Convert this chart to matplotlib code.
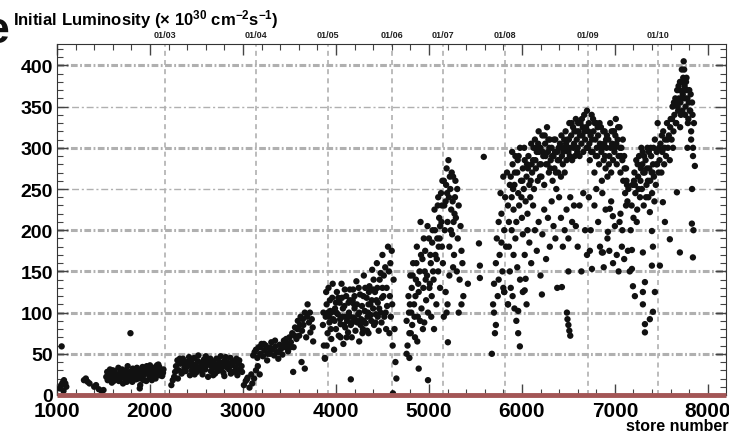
import matplotlib
matplotlib.use('Agg')
import matplotlib.pyplot as plt
from matplotlib.ticker import MultipleLocator
import matplotlib.transforms as mtransforms

# ---------------- data (store number, initial luminosity) ----------------
run2002 = [(1050, 59), (1030, 8), (1045, 12), (1060, 15), (1075, 18), (1090, 14), (1100, 10), (1070, 5),
           (1290, 18), (1310, 20), (1330, 16), (1350, 14), (1400, 10), (1420, 12), (1450, 7), (1480, 5),
           (1500, 6), (1530, 22), (1545, 18), (1560, 26), (1575, 20), (1590, 15), (1605, 24), (1620, 29),
           (1635, 19), (1650, 22), (1665, 17), (1680, 27), (1695, 21), (1710, 14), (1725, 25), (1740, 30),
           (1755, 23), (1770, 18), (1785, 28), (1800, 26), (1815, 32), (1830, 22), (1845, 27), (1860, 33),
           (1875, 25), (1890, 8), (1895, 12), (1905, 30), (1920, 34), (1935, 24), (1950, 29), (1965, 35),
           (1980, 27), (1995, 22), (2010, 31), (2025, 28), (2040, 33), (2055, 25), (2070, 30), (2085, 27),
           (2100, 34), (2115, 29), (2130, 23), (2145, 31), (1790, 75), (1600, 30), (1700, 31), (1750, 16),
           (1850, 19), (1900, 20), (1960, 17), (2000, 36), (2060, 20), (2120, 26), (1640, 25), (1760, 35),
           (1820, 21), (1880, 29), (1940, 32), (2090, 37), (2020, 18),
           (1540, 28), (1570, 31), (1610, 17), (1660, 33), (1690, 24), (1730, 20), (1780, 24), (1810, 16),
           (1840, 30), (1870, 20), (1910, 26), (1930, 18), (1970, 31), (2005, 26), (2035, 22), (2075, 36),
           (2105, 24), (2140, 27)]

run2003 = [(2230, 12), (2245, 18), (2260, 22), (2280, 35), (2295, 42), (2310, 30), (2325, 38), (2340, 26),
           (2355, 44), (2370, 33), (2385, 29), (2400, 40), (2415, 36), (2430, 24), (2445, 41), (2460, 32),
           (2475, 45), (2490, 37), (2505, 28), (2520, 48), (2535, 34), (2550, 39), (2565, 25), (2580, 43),
           (2595, 31), (2610, 36), (2625, 22), (2640, 38), (2655, 29), (2670, 41), (2685, 33), (2700, 26),
           (2715, 44), (2730, 35), (2745, 30), (2760, 47), (2775, 38), (2790, 27), (2805, 42), (2820, 34),
           (2835, 39), (2850, 31), (2865, 45), (2880, 36), (2895, 28), (2910, 40), (2925, 33), (2940, 24),
           (2955, 38), (2970, 30), (2985, 35), (2300, 20), (2350, 28), (2420, 46), (2480, 25), (2560, 35),
           (2600, 47), (2680, 24), (2750, 40), (2800, 23), (2870, 26), (2930, 44), (2450, 30), (2500, 33),
           (2650, 44), (3010, 12), (3030, 17), (3050, 21), (3070, 9), (3090, 25), (3100, 14), (3120, 20),
           (2270, 28), (2320, 44), (2365, 38), (2395, 34), (2440, 37), (2470, 28), (2515, 41), (2545, 30),
           (2590, 38), (2620, 42), (2660, 35), (2695, 38), (2725, 29), (2770, 33), (2815, 46), (2845, 36),
           (2890, 41), (2920, 29), (2960, 42), (2990, 28)]

run2004 = [(3110, 48), (3125, 52), (3140, 55), (3155, 45), (3170, 58), (3185, 50), (3200, 62), (3215, 47),
           (3230, 54), (3245, 60), (3260, 42), (3275, 57), (3290, 50), (3305, 64), (3320, 55), (3335, 48),
           (3350, 59), (3365, 52), (3380, 44), (3395, 61), (3410, 56), (3425, 49), (3440, 66), (3455, 58),
           (3470, 62), (3485, 53), (3500, 70), (3515, 64), (3530, 75), (3545, 58), (3560, 82), (3575, 68),
           (3590, 90), (3605, 72), (3620, 95), (3635, 78), (3650, 85), (3665, 100), (3680, 70), (3695, 110),
           (3710, 88), (3725, 76), (3740, 92), (3755, 65), (3140, 30), (3160, 35), (3180, 25), (3540, 28),
           (3630, 40), (3665, 32), (3043, 19),
           (3190, 58), (3225, 62), (3265, 50), (3300, 57), (3345, 66), (3390, 52), (3430, 60), (3465, 68),
           (3510, 58), (3555, 72), (3585, 80), (3615, 85), (3645, 92), (3690, 95), (3720, 100), (3750, 82)]

run2005 = [(3860, 85), (3870, 60), (3880, 45), (3890, 95), (3900, 110), (3910, 75), (3920, 130), (3930, 88),
           (3940, 102), (3950, 68), (3960, 118), (3970, 92), (3980, 55), (3990, 105), (4000, 80), (4010, 125),
           (4020, 98), (4030, 72), (4040, 112), (4050, 86), (4060, 135), (4070, 95), (4080, 62), (4090, 108),
           (4100, 82), (4110, 120), (4120, 90), (4130, 76), (4140, 100), (4150, 128), (4160, 85), (4170, 70),
           (4180, 115), (4190, 94), (4200, 105), (4210, 78), (4220, 138), (4230, 88), (4240, 98), (4250, 65),
           (4260, 122), (4270, 92), (4280, 108), (4290, 80), (4300, 145), (4310, 102), (4320, 87), (4330, 118),
           (4340, 95), (4350, 75), (4360, 132), (4370, 110), (4380, 90), (4390, 152), (4400, 105), (4410, 85),
           (4420, 125), (4430, 98), (4440, 160), (4450, 112), (4460, 78), (4470, 140), (4480, 100), (4490, 88),
           (4500, 170), (4510, 120), (4520, 95), (4530, 155), (4540, 80), (4550, 108), (3900, 60), (3950, 100),
           (4000, 112), (4050, 70), (4100, 95), (4150, 115), (4200, 120), (4250, 100), (4300, 90), (4350, 110),
           (4400, 128), (4450, 95), (4500, 130), (3935, 115), (4065, 118), (4175, 88), (4285, 75), (4375, 97),
           (4480, 148), (4160, 19), (3882, 44), (4560, 180), (4570, 150), (4580, 120), (4590, 95), (4600, 175),
           (4610, 60), (4620, 140), (4630, 80), (4640, 40), (4613, 2), (4650, 20), (4585, 160), (4605, 110),
           (4575, 75),
           (3865, 100), (3895, 125), (3925, 95), (3945, 80), (3965, 135), (3985, 90), (4005, 100), (4025, 118),
           (4045, 92), (4075, 105), (4095, 128), (4115, 70), (4135, 112), (4155, 95), (4185, 128), (4205, 92),
           (4225, 110), (4245, 130), (4265, 85), (4295, 120), (4315, 130), (4335, 78), (4355, 125), (4385, 115),
           (4405, 140), (4425, 88), (4445, 130), (4465, 105), (4495, 118), (4515, 145), (4535, 100), (4545, 130),
           (3915, 100), (4085, 85), (4195, 110), (4345, 100), (4435, 115)]

run2006 = [(4760, 90), (4770, 60), (4780, 120), (4790, 75), (4800, 145), (4810, 100), (4890, 32), (4990, 18),
           (4815, 130), (4820, 85), (4830, 160), (4840, 110), (4850, 70), (4860, 140), (4870, 180), (4880, 95),
           (4890, 125), (4900, 150), (4910, 210), (4920, 105), (4930, 165), (4940, 130), (4950, 88), (4960, 175),
           (4970, 115), (4980, 145), (4990, 100), (5000, 190), (5010, 135), (5020, 160), (5030, 120), (5040, 200),
           (5050, 140), (5060, 225), (5070, 170), (5080, 110), (5090, 190), (5100, 150), (5110, 215), (5120, 130),
           (5130, 245), (5140, 180), (5150, 160), (4785, 100), (4805, 75), (4855, 120), (4905, 90), (4955, 150),
           (5005, 130), (5055, 80), (5105, 180), (4875, 65), (4935, 80), (5025, 95), (4760, 50), (4790, 45),
           (5160, 260), (5170, 200), (5180, 235), (5190, 275), (5200, 210), (5210, 285), (5220, 180), (5230, 250),
           (5240, 225), (5250, 195), (5260, 265), (5270, 170), (5280, 240), (5290, 215), (5300, 150), (5310, 190),
           (5320, 230), (5330, 140), (5340, 205), (5350, 175), (5360, 160), (5370, 120), (5419, 135), (5160, 95),
           (5180, 125), (5200, 110), (5220, 145), (5260, 155), (5320, 100), (5350, 110), (5204, 64), (5190, 100),
           (5185, 255), (5215, 240), (5245, 270), (5275, 220), (5305, 250), (5140, 230), (5120, 205), (5100, 240),
           (4795, 110), (4825, 145), (4845, 95), (4865, 160), (4885, 135), (4915, 170), (4945, 190), (4965, 140),
           (4985, 205), (5015, 170), (5035, 185), (5045, 150), (5065, 200), (5085, 165), (5095, 230), (5115, 190),
           (5135, 210), (5145, 260), (5165, 230), (5195, 245), (5225, 265), (5255, 235), (5285, 260), (5235, 200),
           (5265, 210)]

run2007 = [(5538, 184), (5548, 157), (5548, 142), (5590, 289), (5677, 50), (5690, 110), (5700, 135),
           (5710, 75), (5720, 160), (5730, 190), (5740, 120), (5750, 210), (5760, 170), (5770, 245), (5780, 220),
           (5790, 150), (5800, 265), (5810, 200), (5820, 240), (5830, 180), (5840, 270), (5850, 230), (5860, 210),
           (5870, 255), (5700, 100), (5720, 85), (5750, 140), (5780, 185), (5800, 130), (5810, 125), (5850, 110)]

run2008 = [(5880, 265), (5890, 240), (5900, 280), (5910, 225), (5920, 255), (5930, 290), (5940, 210),
           (5950, 270), (5960, 245), (5970, 230), (5980, 300), (5990, 260), (6000, 215), (6010, 275), (6020, 250),
           (6030, 285), (6040, 235), (6050, 265), (6060, 200), (6070, 290), (6080, 255), (6090, 240), (6100, 305),
           (6110, 270), (6120, 285), (6130, 250), (6140, 310), (6150, 275), (6160, 295), (6170, 260), (6180, 320),
           (6190, 280), (6200, 300), (6210, 265), (6220, 315), (6230, 290), (6240, 255), (6250, 305), (6260, 280),
           (6270, 325), (6280, 295), (6290, 270), (6300, 310), (6310, 285), (6320, 300), (6330, 260), (6340, 290),
           (6350, 275), (6360, 310), (6370, 250), (6380, 295), (6390, 270), (6400, 285), (6410, 305), (6420, 265),
           (6430, 290), (6440, 280), (6450, 300), (6460, 270), (6470, 320), (6480, 285), (6490, 310), (6500, 295),
           (6510, 330), (6520, 300), (6530, 315), (6540, 285), (6550, 325), (6560, 305), (6570, 290), (6580, 335),
           (6590, 310), (6600, 300), (6610, 320), (6620, 290), (6630, 330), (6640, 305), (6650, 315), (6660, 295),
           (6670, 340), (6680, 310), (6690, 325), (5905, 250), (5955, 285), (6005, 260), (6055, 280), (6105, 280),
           (6155, 300), (6205, 280), (6255, 290), (6305, 275), (6355, 295), (6405, 300), (6455, 310), (6505, 310),
           (6555, 300), (6605, 330), (6655, 325), (6185, 295), (6285, 310), (6385, 285), (6485, 300), (6585, 320),
           (5860, 180), (5870, 150), (5880, 130), (5890, 200), (5900, 120), (5910, 170), (5920, 105), (5930, 190),
           (5940, 90), (5950, 155), (5960, 75), (5980, 140), (5978, 59), (6010, 195), (6030, 170), (6050, 110),
           (6060, 220), (6080, 185), (6100, 160), (6120, 230), (6140, 200), (6160, 175), (6180, 210), (6200, 145),
           (6220, 195), (6240, 225), (6260, 165), (6280, 215), (6300, 180), (6320, 235), (6340, 205), (6360, 190),
           (6380, 130), (6400, 240), (6420, 215), (6440, 180), (6460, 200), (6430, 131), (6480, 225), (6500, 190),
           (6520, 240), (6540, 210), (6560, 230), (6580, 205), (6600, 180), (6620, 230), (6640, 150), (6660, 245),
           (6680, 200), (6700, 170), (6484, 100), (6490, 92), (6500, 85), (6510, 78), (6520, 72), (6010, 125),
           (6030, 127), (6215, 122), (6500, 150), (6040, 141), (5960, 102), (5850, 110), (5810, 125),
           (5895, 295), (5925, 270), (5965, 290), (5995, 240), (6025, 300), (6065, 275), (6095, 260), (6125, 300),
           (6145, 285), (6175, 305), (6195, 265), (6225, 295), (6245, 315), (6275, 280), (6295, 300), (6325, 290),
           (6345, 310), (6365, 270), (6395, 300), (6425, 315), (6445, 295), (6475, 305), (6515, 290), (6535, 330),
           (6565, 320), (6595, 295), (6625, 315), (6645, 335), (6675, 320), (6695, 300)]

run2009 = [(6700, 345), (6710, 300), (6720, 330), (6730, 285), (6740, 315), (6750, 340), (6760, 295),
           (6770, 320), (6780, 270), (6790, 310), (6800, 330), (6810, 290), (6820, 315), (6830, 280), (6840, 305),
           (6850, 325), (6860, 260), (6870, 300), (6880, 285), (6890, 320), (6900, 275), (6910, 300), (6920, 265),
           (6930, 310), (6940, 290), (6950, 330), (6960, 270), (6970, 305), (6980, 285), (6990, 320), (7000, 300),
           (7010, 335), (7020, 280), (7030, 310), (7040, 290), (7050, 325), (7060, 270), (7070, 300), (7080, 285),
           (7090, 260), (7100, 290), (7110, 245), (7120, 275), (7130, 255), (6755, 310), (6805, 300), (6855, 295),
           (6905, 310), (6955, 300), (7005, 315), (7055, 300), (6785, 330), (6885, 305), (6985, 320), (6725, 305),
           (6835, 330), (6720, 240), (6740, 200), (6860, 173), (6780, 230), (6800, 250), (6820, 210), (6840, 180),
           (6865, 245), (6880, 155), (6900, 225), (6920, 190), (6940, 175), (6960, 235), (6980, 160), (7000, 205),
           (7020, 170), (7040, 150), (7060, 220), (7080, 200), (7100, 165), (7120, 230), (7140, 175), (7160, 150),
           (7050, 210), (6731, 175), (6753, 153), (6871, 173), (6925, 198), (7075, 180), (6978, 217), (6946, 226),
           (6715, 320), (6745, 295), (6765, 335), (6795, 290), (6815, 325), (6845, 300), (6875, 320), (6895, 290),
           (6915, 315), (6935, 280), (6965, 320), (6995, 295), (7015, 305), (7035, 325), (7065, 290), (7085, 310),
           (7105, 275), (7125, 260), (7135, 235), (7145, 250)]

run2010 = [(7170, 200), (7180, 230), (7190, 255), (7200, 215), (7210, 270), (7220, 245), (7230, 285),
           (7240, 225), (7250, 265), (7260, 290), (7270, 240), (7280, 275), (7290, 250), (7300, 295), (7310, 230),
           (7320, 270), (7330, 285), (7340, 255), (7350, 300), (7360, 240), (7370, 275), (7380, 260), (7390, 290),
           (7400, 245), (7410, 280), (7420, 265), (7430, 310), (7440, 255), (7450, 295), (7460, 330), (7470, 270),
           (7205, 260), (7255, 250), (7305, 270), (7355, 260), (7405, 270), (7455, 280), (7235, 210), (7285, 300),
           (7335, 240), (7385, 300), (7425, 235), (7183, 153), (7183, 176), (7194, 132), (7215, 120), (7301, 125),
           (7323, 137), (7301, 110), (7323, 86), (7323, 76), (7376, 92), (7409, 101), (7430, 125), (7484, 157),
           (7398, 157), (7409, 180), (7301, 173), (7591, 189), (7699, 173), (7839, 167), (7828, 208), (7538, 210),
           (7398, 199), (7376, 222), (7516, 234), (7667, 246),
           (7480, 285), (7490, 305), (7500, 270), (7510, 295), (7520, 320), (7530, 280), (7540, 310), (7550, 290),
           (7560, 330), (7570, 300), (7580, 315), (7590, 285), (7600, 335), (7610, 310), (7620, 350), (7630, 320),
           (7640, 340), (7650, 360), (7660, 330), (7670, 370), (7680, 345), (7690, 360), (7700, 380), (7710, 340),
           (7720, 395), (7730, 365), (7740, 405), (7750, 375), (7760, 350), (7770, 385), (7780, 360), (7790, 335),
           (7800, 370), (7810, 345), (7820, 320), (7830, 355), (7840, 300), (7850, 330), (7625, 300), (7655, 330),
           (7685, 375), (7705, 355), (7725, 345), (7755, 360), (7785, 330), (7805, 345), (7665, 355), (7745, 370),
           (7765, 380), (7702, 325), (7780, 300), (7860, 278), (7840, 290), (7820, 310), (7830, 250), (7845, 200),
           (7215, 255), (7245, 280), (7275, 260), (7295, 280), (7315, 290), (7345, 275), (7365, 295), (7395, 270),
           (7415, 300), (7445, 280), (7475, 300), (7505, 315), (7535, 300), (7565, 310), (7595, 325), (7615, 335),
           (7635, 355), (7675, 350), (7695, 370), (7715, 380), (7735, 385), (7755, 340), (7775, 370), (7795, 355),
           (7815, 365), (7835, 340), (7725, 360), (7745, 395)]

date_stores = [2161, 3140, 3914, 4602, 5151, 5817, 6710, 7462]
date_labels = ['01/03', '01/04', '01/05', '01/06', '01/07', '01/08', '01/09', '01/10']
y_grid_strong = [50, 100, 150, 200, 300, 400]
y_grid_light = [250, 350]

# ---------------- figure ----------------
plt.rcParams['font.family'] = ['Liberation Sans', 'DejaVu Sans']
plt.rcParams['font.weight'] = 'bold'
plt.rcParams['mathtext.default'] = 'regular'

W, H = 729, 435
fig = plt.figure(figsize=(W / 100, H / 100), dpi=100)
ax = fig.add_axes([57 / W, 1 - 396 / H, (726 - 57) / W, (396 - 45) / H])
ax.set_xlim(1000, 8195)
ax.set_ylim(0, 426)

for v in y_grid_strong:
    ax.axhline(v, color='#b0b0b0', lw=2.2, ls=(0, (2.2, 0.8, 0.6, 0.8)), zorder=1)
for v in y_grid_light:
    ax.axhline(v, color='#b0b0b0', lw=1.0, ls=(0, (5, 2, 1.5, 2)), zorder=1)
for d in date_stores:
    ax.axvline(d, color='#b0b0b0', lw=1.2, ls=(0, (3, 2.5)), zorder=1)

all_runs = [run2002, run2003, run2004, run2005, run2006, run2007, run2008, run2009, run2010]
for run in all_runs:
    xs = [p[0] for p in run]
    ys = [p[1] for p in run]
    ax.scatter(xs, ys, s=21, color='#111111', edgecolors='none', zorder=3)

ax.plot([1000, 8195], [0, 0], color='#a35656', lw=3.5, solid_capstyle='butt',
        clip_on=False, zorder=5)

ax.xaxis.set_major_locator(MultipleLocator(1000))
ax.xaxis.set_minor_locator(MultipleLocator(200))
ax.yaxis.set_major_locator(MultipleLocator(50))
ax.yaxis.set_minor_locator(MultipleLocator(10))
ax.tick_params(which='both', direction='in', top=True, right=True, color='#444444')
ax.tick_params(which='major', length=8, width=1)
ax.tick_params(which='minor', length=4, width=0.8)
ax.tick_params(axis='x', labelsize=15, pad=4)
ax.tick_params(axis='y', labelsize=14, pad=3)
for lab in ax.get_xticklabels() + ax.get_yticklabels():
    lab.set_fontweight('bold')
for sp in ax.spines.values():
    sp.set_linewidth(0.8)
    sp.set_color('#333333')

trans = mtransforms.blended_transform_factory(ax.transData, ax.transAxes)
for d, lab in zip(date_stores, date_labels):
    ax.text(d, 1.014, lab, transform=trans, ha='center', va='bottom',
            fontsize=6.5, fontweight='bold', color='#222222')

fig.text(13 / W, 1 - 25 / H, r'Initial Luminosity ($\times$ 10$^{30}$ cm$^{-2}$s$^{-1}$)',
         ha='left', va='baseline', fontsize=12, fontweight='bold')
fig.text(-16 / W, 1 - 43 / H, 'e', ha='left', va='baseline', fontsize=32, color='#111111')
fig.text(728 / W, 1 - 431 / H, 'store number', ha='right', va='baseline',
         fontsize=11.5, fontweight='bold')

fig.savefig('out.png', dpi=100)
